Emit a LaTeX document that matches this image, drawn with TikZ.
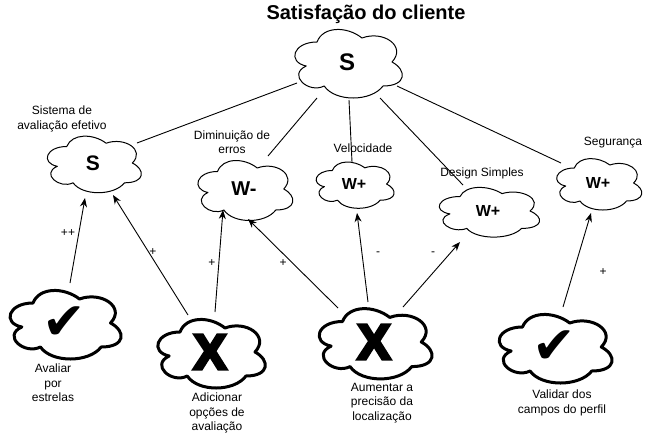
\documentclass[tikz,border=0pt]{standalone}
\usepackage{fontspec}
\setmainfont{Liberation Sans}
\newfontfamily\symfont{DejaVu Sans}
\newfontfamily\heavyfont{Liberation Sans}[FakeBold=6]
\usetikzlibrary{arrows.meta,calc}

\tikzset{
  lbl/.style={align=center, font=\fontsize{12}{14.5}\selectfont, inner sep=0pt},
  elbl/.style={font=\fontsize{12}{14}\selectfont, inner sep=0pt},
  thinc/.style={draw=black, line width=1pt, fill=white, line join=round},
  thickc/.style={draw=black, line width=3pt, fill=white, line join=round},
  conn/.style={draw=black, line width=0.9pt},
  arr/.style={conn, -{Stealth[length=9pt,width=7pt]}},
  ctext/.style={inner sep=0pt},
}

\newcommand{\cloudpath}[4]{%
  \begin{scope}[shift={#2}, x=#3pt, y=#4pt]
  \path[#1] (-0.25,0.25) .. controls (-0.45,0.25) and (-0.5,0) .. (-0.34,-0.05)
   .. controls (-0.5,-0.16) and (-0.32,-0.4) .. (-0.19,-0.3)
   .. controls (-0.1,-0.5) and (0.2,-0.5) .. (0.3,-0.3)
   .. controls (0.5,-0.3) and (0.5,-0.1) .. (0.375,0)
   .. controls (0.5,0.2) and (0.3,0.4) .. (0.125,0.3)
   .. controls (0,0.45) and (-0.2,0.45) .. (-0.25,0.25) -- cycle;
  \end{scope}}
% name, pos, w, h, style, font, text
\newcommand{\cloudnode}[7]{%
  \cloudpath{#5}{#2}{#3}{#4}%
  \node[ctext, font=#6] (#1) at #2 {#7};}

\begin{document}
\begin{tikzpicture}[x=1pt, y=-1pt]
\fill[white] (0,0) rectangle (663,432);
\useasboundingbox (0,0) rectangle (663,432);

% title
\node[font=\bfseries\fontsize{20}{24}\selectfont, inner sep=0pt] (title) at (366,14) {Satisfação do cliente};

% top clouds
\cloudnode{top}{(347,62)}{120}{80}{thinc}{\bfseries\fontsize{24}{24}\selectfont}{S}
\cloudnode{s1}{(93,163)}{105}{66}{thinc}{\bfseries\fontsize{21}{21}\selectfont}{S}
\cloudnode{wm}{(244,189)}{106}{70}{thinc}{\bfseries\fontsize{20}{20}\selectfont}{W-}
\cloudnode{v}{(354,184)}{87}{54}{thinc}{\bfseries\fontsize{16}{16}\selectfont}{W+}
\cloudnode{d}{(488,211)}{112}{58}{thinc}{\bfseries\fontsize{16}{16}\selectfont}{W+}
\cloudnode{sg}{(598,183)}{95}{60}{thinc}{\bfseries\fontsize{16}{16}\selectfont}{W+}

% bottom clouds
\cloudnode{c1}{(64,323)}{124}{80}{thickc}{\symfont\fontsize{52}{52}\selectfont}{✔}
\cloudnode{x1}{(210,352)}{120}{80}{thickc}{\heavyfont\bfseries\fontsize{50}{50}\selectfont}{X}
\cloudnode{x2}{(374,342)}{126}{82}{thickc}{\heavyfont\bfseries\fontsize{50}{50}\selectfont}{X}
\cloudnode{c2}{(554,347)}{126}{80}{thickc}{\symfont\fontsize{52}{52}\selectfont}{✔}

% labels
\node[lbl] (ls1) at (62,119) {Sistema de\\avaliação efetivo};
\node[lbl] (lwm) at (232,142) {Diminuição de\\erros};
\node[lbl] (lv) at (363,148) {Velocidade};
\node[lbl] (ld) at (482,173) {Design Simples};
\node[lbl] (lsg) at (613,143) {Segurança};
\node[lbl] (lc1) at (53,383) {Avaliar\\por\\estrelas};
\node[lbl] (lx1) at (217,413) {Adicionar\\opções de\\avaliação};
\node[lbl] (lx2) at (382,403) {Aumentar a\\precisão da\\localização};
\node[lbl] (lc2) at (562,403) {Validar dos\\campos do perfil};

% lines from top
\draw[conn] ($(top)+(-50,21)$) -- ($(s1)+(44,-20)$);
\draw[conn] ($(top)+(-30,36)$) -- ($(wm)+(24,-33)$);
\draw[conn] ($(top)+(2,38)$) -- ($(v)+(-2,-22)$);
\draw[conn] ($(top)+(33,36)$) -- ($(d)+(-25,-26)$);
\draw[conn] ($(top)+(50,24)$) -- ($(sg)+(-37,-20)$);

% arrows
\draw[arr] ($(c1)+(6,-40)$) -- ($(s1)+(-8,35)$);
\draw[arr] ($(x1)+(-22,-37)$) -- ($(s1)+(20,32)$);
\draw[arr] ($(x1)+(5,-40)$) -- ($(wm)+(-21,21)$);
\draw[arr] ($(x2)+(-36,-34)$) -- ($(wm)+(4,30)$);
\draw[arr] ($(x2)+(-6,-40)$) -- ($(v)+(3,29)$);
\draw[arr] ($(x2)+(29,-35)$) -- ($(d)+(-28,31)$);
\draw[arr] ($(c2)+(9,-40)$) -- ($(sg)+(-7,30)$);

% edge labels
\node[elbl] (e1) at (68,233) {++};
\node[elbl] (e2) at (153,252) {+};
\node[elbl] (e3) at (212,263) {+};
\node[elbl] (e4) at (283,263) {+};
\node[elbl] (e5) at (378,254) {-};
\node[elbl] (e6) at (433,254) {-};
\node[elbl] (e7) at (603,272) {+};
\end{tikzpicture}
\end{document}
